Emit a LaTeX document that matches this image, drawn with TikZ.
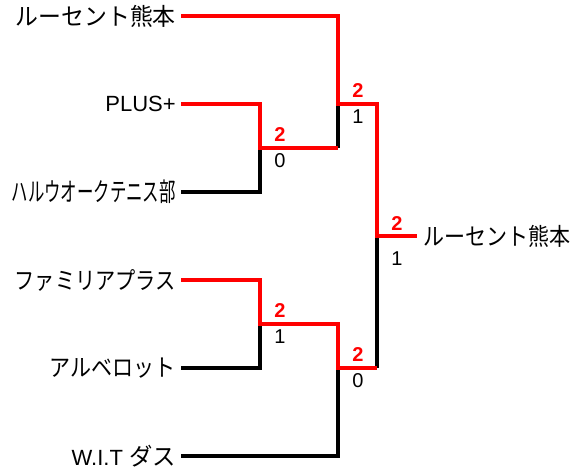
\documentclass[tikz,border=0pt]{standalone}
\usepackage{fontspec}
\setmainfont{Liberation Sans}
\newfontfamily\jp{Noto Sans CJK JP}
\usepackage{graphicx}
\newcommand{\fitw}[2]{\resizebox{#1}{\height}{#2}}
\begin{document}
\begin{tikzpicture}[x=0.75pt,y=-0.75pt,
  team/.style={anchor=east,inner xsep=3.75pt,inner ysep=0pt,font=\fontsize{18}{20}\selectfont},
  champ/.style={anchor=west,inner xsep=4.5pt,inner ysep=0pt,font=\fontsize{18}{20}\selectfont},
  win/.style={line width=3pt,draw=red,line join=miter},
  lose/.style={line width=3pt,draw=black,line join=miter},
  wscore/.style={text=red,font=\fontsize{15}{17}\bfseries\selectfont,inner sep=0pt},
  lscore/.style={text=black,font=\fontsize{15}{17}\selectfont,inner sep=0pt}]
\useasboundingbox (0,0) rectangle (584,468);
% teams
\node[team] (t1) at (181,16)  {\fitw{120pt}{\jp ルーセント熊本}};
\node[team] (t2) at (181,104) {\fontsize{16.5}{18}\selectfont PLUS+};
\node[team] (t3) at (181,192) {\resizebox{123pt}{1.08\height}{\jp ハルウオークテニス部}};
\node[team] (t4) at (181,280) {\fitw{120.75pt}{\jp ファミリアプラス}};
\node[team] (t5) at (181,368) {\fitw{94.5pt}{\jp アルベロット}};
\node[team] (t6) at (181,456) {\fontsize{16.5}{18}\selectfont W.I.T {\jp\fontsize{18}{20}\selectfont\fitw{35pt}{ダス}}};
% junctions
\coordinate (m1) at (260,148);
\coordinate (m2) at (338,104);
\coordinate (m3) at (260,324);
\coordinate (m4) at (338,368);
\coordinate (fin) at (377,236);
\coordinate (m1o) at (m1 -| m2);
\coordinate (m3o) at (m3 -| m4);
\coordinate (m4o) at (m4 -| fin);
\node[champ] (ch) at (417,236) {\fitw{110.25pt}{\jp ルーセント熊本}};
% losing lines
\draw[lose] (t3.east) -| (m1);
\draw[lose] (m1o) -- (m2);
\draw[lose] (t5.east) -| (m3);
\draw[lose] (t6.east) -| (m4);
\draw[lose] (m4o) -- (fin);
% winning lines
\draw[win] (t1.east) -| (m2) -| (fin) -- (ch.west);
\draw[win] (t2.east) -| (m1) -- (m1o);
\draw[win] (t4.east) -| (m3) -- (m3o) -- (m4) -- (m4o);
% scores
\node[wscore] (s1a) at ([shift={(20,-13.5)}]m1) {2};
\node[lscore] (s1b) at ([shift={(20,13)}]m1) {0};
\node[wscore] (s2a) at ([shift={(20,-13.5)}]m2) {2};
\node[lscore] (s2b) at ([shift={(20,13)}]m2) {1};
\node[wscore] (s3a) at ([shift={(20,-13.5)}]m3) {2};
\node[lscore] (s3b) at ([shift={(20,13)}]m3) {1};
\node[wscore] (s4a) at ([shift={(20,-13.5)}]m4) {2};
\node[lscore] (s4b) at ([shift={(20,13)}]m4) {0};
\node[wscore] (s5a) at ([shift={(20,-12.5)}]fin) {2};
\node[lscore] (s5b) at ([shift={(20,23)}]fin) {1};
\end{tikzpicture}
\end{document}
